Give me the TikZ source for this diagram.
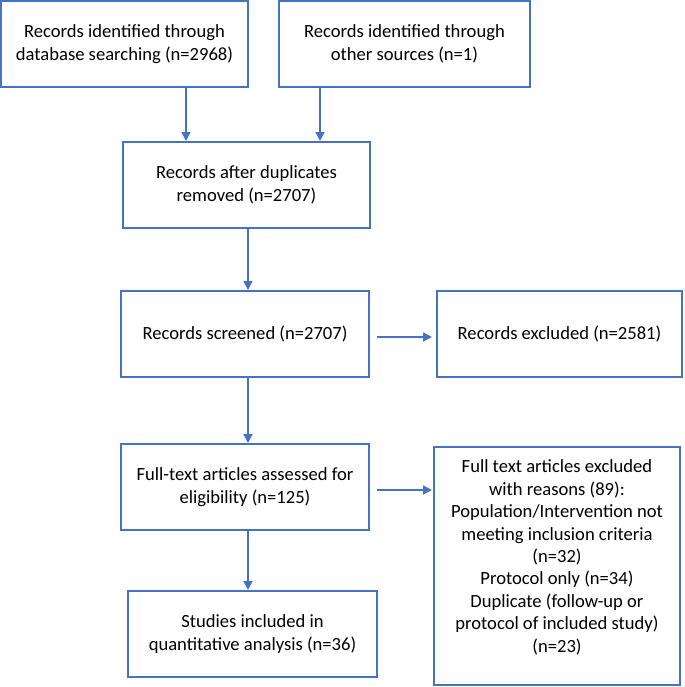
\documentclass[tikz,border=0pt]{standalone}
\usepackage{fontspec}
\setmainfont{Carlito}
\usetikzlibrary{arrows.meta}
\definecolor{flowblue}{HTML}{4472C4}
\begin{document}
\begin{tikzpicture}[x=0.5pt,y=-0.5pt,
    every node/.append style={font=\fontsize{9.3}{11.2}\selectfont},
    box/.style={draw=flowblue,line width=1pt,rectangle,align=center,inner sep=0pt,minimum height=43pt},
    arr/.style={-{Triangle[length=4.5pt,width=4.5pt]},draw=flowblue,fill=flowblue,line width=0.8pt}]
      \useasboundingbox (0,0) rectangle (685,687);

      \node[box,minimum width=123.5pt] (Ident) at (124.5,44) {Records identified through\\database searching (n=2968)};
      \node[box,minimum width=125.5pt] (Other) at (404.5,44) {Records identified through\\other sources (n=1)};
      \node[box,minimum width=123.5pt] (Dedup) at (246.5,185) {Records after duplicates\\removed (n=2707)};
      \node[box,minimum width=124pt] (Screen) at (245,334) {Records screened (n=2707)};
      \node[box,minimum width=122.5pt] (Excl) at (559.5,334) {Records excluded (n=2581)};
      \node[box,minimum width=124pt] (Full) at (245,487) {Full-text articles assessed for\\eligibility (n=125)};
      \node[box,minimum width=123pt,minimum height=119pt,text depth=10pt] (FullExcl) at (557,566) {Full text articles excluded\\with reasons (89):\\Population/Intervention not\\meeting inclusion criteria\\(n=32)\\Protocol only (n=34)\\Duplicate (follow-up or\\protocol of included study)\\(n=23)};
      \node[box,minimum width=124.5pt] (Incl) at (252.5,634) {Studies included in\\quantitative analysis (n=36)};

      \draw[arr] ([xshift=30.75pt]Ident.south)--([xshift=-30.25pt]Dedup.north);
      \draw[arr] ([xshift=-42.25pt]Other.south)--([xshift=36.75pt]Dedup.north);
      \draw[arr] ([xshift=0.75pt]Dedup.south)--([xshift=1.5pt]Screen.north);
      \draw[arr] ([xshift=1.5pt]Screen.south)--([xshift=1.5pt]Full.north);
      \draw[arr] ([xshift=1.5pt]Full.south)--([xshift=-2.25pt]Incl.north);

      \draw[arr,shorten <=3.5pt,shorten >=2pt] ([yshift=-1.5pt]Screen.east)--([yshift=-1.5pt]Screen.east -| Excl.west);
      \draw[arr,shorten <=3.5pt,shorten >=0.5pt] ([yshift=-1.5pt]Full.east)--([yshift=-1.5pt]Full.east -| FullExcl.west);
    \end{tikzpicture}
\end{document}
